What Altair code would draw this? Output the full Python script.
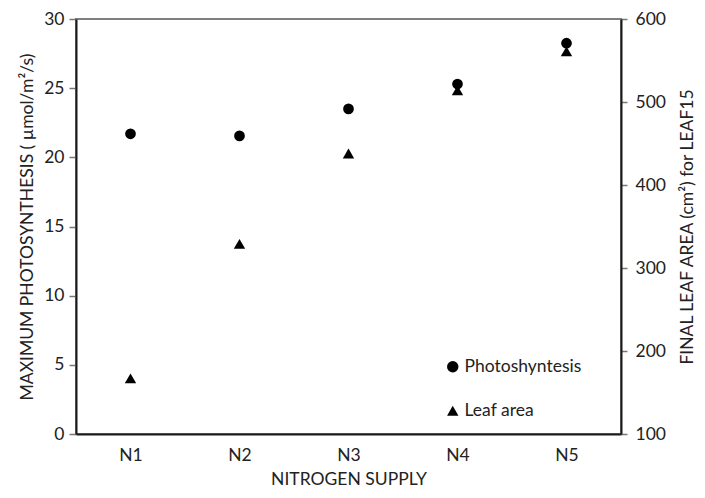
import altair as alt
import pandas as pd

categories = ["N1", "N2", "N3", "N4", "N5"]
photosynthesis = [21.7, 21.55, 23.5, 25.3, 28.25]
leaf_area = [167, 329, 438, 514, 561]
series_names = ["Photoshyntesis", "Leaf area"]

df = pd.DataFrame({"nitrogen": categories, "photo": photosynthesis, "leaf": leaf_area})

FONT = "Lato"
FS = 17.5

x = alt.X("nitrogen:N", sort=categories,
          scale=alt.Scale(type="point", padding=0.5),
          axis=alt.Axis(title="NITROGEN SUPPLY", labelAngle=0, ticks=False,
                        labelPadding=12, titlePadding=7))

shape_scale = alt.Scale(domain=series_names, range=["circle", "triangle-up"])

photo_layer = alt.Chart(df).mark_point(filled=True, color="black", opacity=1, size=115).encode(
    x=x,
    y=alt.Y("photo:Q", scale=alt.Scale(domain=[0, 30]),
            axis=alt.Axis(title="MAXIMUM PHOTOSYNTHESIS ( µmol/m²/s)", values=[0, 5, 10, 15, 20, 25, 30],
                          orient="left", grid=False, tickSize=7, labelPadding=5, titlePadding=7)),
    shape=alt.Shape("s:N", scale=shape_scale,
                    legend=alt.Legend(title=None, orient="none", legendX=368, legendY=339,
                                      symbolFillColor="black", symbolStrokeColor="black",
                                      symbolSize=130, labelFontSize=FS, labelFont=FONT,
                                      rowPadding=25, labelOffset=3)),
).transform_calculate(s="'Photoshyntesis'")

leaf_layer = alt.Chart(df).mark_point(filled=True, color="black", opacity=1, size=130).encode(
    x=x,
    y=alt.Y("leaf:Q", scale=alt.Scale(domain=[100, 600]),
            axis=alt.Axis(title="FINAL LEAF AREA (cm²) for LEAF15", values=[100, 200, 300, 400, 500, 600],
                          orient="right", grid=False, tickSize=6, labelPadding=8, titlePadding=13,
                          titleAngle=270, titleBaseline="top")),
    shape=alt.Shape("s:N", scale=shape_scale),
).transform_calculate(s="'Leaf area'")

chart = alt.layer(photo_layer, leaf_layer).resolve_scale(y="independent").properties(
    width=545, height=415,
    autosize=alt.AutoSizeParams(type="none"),
    padding={"left": 68, "top": 11, "right": 76, "bottom": 56},
).configure_view(stroke="#7f7f7f", strokeWidth=2).configure_axis(
    labelFont=FONT, titleFont=FONT, labelFontSize=FS, titleFontSize=FS,
    labelColor="#222", titleColor="#222", titleFontWeight="normal",
    domainColor="#1a1a1a", domainWidth=2, tickColor="#777", tickWidth=1.5,
).configure_legend(labelColor="#222")

chart.save("out.html", embed_options={"renderer": "svg", "actions": False})
